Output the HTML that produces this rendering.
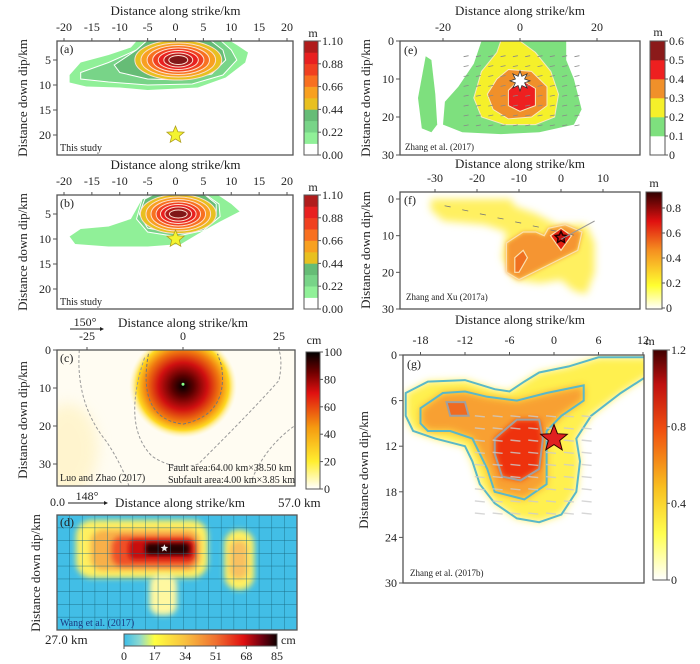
<!DOCTYPE html>
<html><head><meta charset="utf-8"><style>
html,body{margin:0;padding:0;background:#fff}
svg{display:block;font-family:"Liberation Serif",serif}
</style></head><body>
<svg id="fig" width="700" height="664" viewBox="0 0 700 664" xmlns="http://www.w3.org/2000/svg">
<defs>
<filter id="b2" x="-20%" y="-20%" width="140%" height="140%"><feGaussianBlur stdDeviation="2"/></filter>
<filter id="b3" x="-30%" y="-30%" width="160%" height="160%"><feGaussianBlur stdDeviation="3"/></filter>
<filter id="b4" x="-30%" y="-30%" width="160%" height="160%"><feGaussianBlur stdDeviation="4"/></filter>
<filter id="b7" x="-40%" y="-40%" width="180%" height="180%"><feGaussianBlur stdDeviation="7"/></filter>
<radialGradient id="gc" cx="0.5" cy="0.5" r="0.5">
<stop offset="0" stop-color="#000"/><stop offset="0.2" stop-color="#5a0000"/><stop offset="0.45" stop-color="#d01010"/><stop offset="0.68" stop-color="#f07a10"/><stop offset="0.85" stop-color="#ffd820"/><stop offset="1" stop-color="#fff6c0" stop-opacity="0"/></radialGradient>
<linearGradient id="cbc" x1="0" y1="1" x2="0" y2="0"><stop offset="0" stop-color="#fff"/><stop offset="0.2" stop-color="#ffee30"/><stop offset="0.45" stop-color="#f59a10"/><stop offset="0.7" stop-color="#e01010"/><stop offset="0.85" stop-color="#700000"/><stop offset="1" stop-color="#000"/></linearGradient>
<linearGradient id="cbd" x1="0" y1="0" x2="1" y2="0"><stop offset="0" stop-color="#3cbde8"/><stop offset="0.1" stop-color="#8ad8d0"/><stop offset="0.2" stop-color="#ffff40"/><stop offset="0.4" stop-color="#f8c040"/><stop offset="0.6" stop-color="#f07030"/><stop offset="0.78" stop-color="#e01010"/><stop offset="0.9" stop-color="#700010"/><stop offset="1" stop-color="#100000"/></linearGradient>
<linearGradient id="cbf" x1="0" y1="1" x2="0" y2="0"><stop offset="0" stop-color="#fff"/><stop offset="0.2" stop-color="#ffff30"/><stop offset="0.5" stop-color="#f59020"/><stop offset="0.75" stop-color="#e01010"/><stop offset="1" stop-color="#300000"/></linearGradient>
<linearGradient id="cbg" x1="0" y1="1" x2="0" y2="0"><stop offset="0" stop-color="#fff"/><stop offset="0.2" stop-color="#ffff50"/><stop offset="0.4" stop-color="#f8c020"/><stop offset="0.65" stop-color="#f05010"/><stop offset="0.85" stop-color="#c01010"/><stop offset="1" stop-color="#400000"/></linearGradient>
</defs>
</svg>
<script>
// ---- data arrays ----
const abXTicks=[-20,-15,-10,-5,0,5,10,15,20];
const abYTicks=[5,10,15,20];
const abCbLabels=["1.10","0.88","0.66","0.44","0.22","0.00"];
const abCbColors=["#fff","#90f098","#78d488","#66bc76","#e8c020","#f8a020","#f87020","#f04020","#e82020","#b01c1c","#801818"];
const aEllRx=[7.8,6.7,5.6,4.6,3.6,2.6,1.7];
const aEllRy=[4.0,3.4,2.9,2.4,1.9,1.4,0.9];
const bEllRx=[6.8,5.8,4.9,4.0,3.2,2.4,1.6];
const bEllRy=[3.9,3.4,2.9,2.4,1.9,1.4,0.8];
const aStar=[0,20], bStar=[0,10];
const cXTicks=[-25,0,25], cYTicks=[0,10,20,30], cCbLabels=[100,80,60,40,20,0];
const cPeak=[0,9];
const dCbLabels=[0,17,34,51,68,85];
const eXTicks=[-20,0,20], eYTicks=[0,10,20,30], eCbLabels=["0.6","0.5","0.4","0.3","0.2","0.1","0"];
const eColors=["#fff","#7ee07e","#f5f02a","#f0902a","#ee2020","#8b1a1a"];
const fXTicks=[-30,-20,-10,0,10], fYTicks=[0,10,20,30], fCbLabels=["0.8","0.6","0.4","0.2","0"];
const gXTicks=[-18,-12,-6,0,6,12], gYTicks=[0,6,12,18,24,30], gCbLabels=["1.2","0.8","0.4","0"];
const gStar=[0,11];

const NS="http://www.w3.org/2000/svg";
const svg=document.getElementById('fig');
function el(tag,attrs,parent,txt){const e=document.createElementNS(NS,tag);for(const k in attrs)e.setAttribute(k,attrs[k]);if(txt!==undefined)e.textContent=txt;(parent||svg).appendChild(e);return e;}
function lin(d0,d1,p0,p1){return v=>p0+(v-d0)*(p1-p0)/(d1-d0);}
function pts(arr,sx,sy){return arr.map(p=>sx(p[0]).toFixed(1)+","+sy(p[1]).toFixed(1)).join(" ");}
function starPts(cx,cy,R,r,n){n=n||5;let s=[];for(let i=0;i<2*n;i++){const a=-Math.PI/2+i*Math.PI/n;const rr=i%2?r:R;s.push((cx+rr*Math.cos(a)).toFixed(1)+","+(cy+rr*Math.sin(a)).toFixed(1));}return s.join(" ");}
function txt(x,y,s,size,anchor,name,extra){const t=el('text',Object.assign({x:x,y:y,'font-size':size,'text-anchor':anchor||'middle',fill:'#222'},extra||{}),svg,s);return t;}
function clip(id,x,y,w,h){const c=el('clipPath',{id:id},svg.querySelector('defs'));el('rect',{x:x,y:y,width:w,height:h},c);}
function frame(x,y,w,h,name){const r=el('rect',{x:x,y:y,width:w,height:h,fill:'none',stroke:'#555','stroke-width':1.3});}
function topAxis(ticks,sx,ybox,ylab,title,ytitle,pref){
  const xs=ticks.map(sx);
  ticks.forEach((t,i)=>{el('line',{x1:xs[i],x2:xs[i],y1:ybox,y2:ybox-3,stroke:'#555'});txt(xs[i],ylab,String(t),12,'middle',pref+'-x-tick');});
  if(title)txt((xs[0]+xs[xs.length-1])/2,ytitle,title,13,'middle',pref+'-x-axis-title');
}
function leftAxis(ticks,sy,xbox,pref){ticks.forEach(t=>{const y=sy(t);el('line',{x1:xbox,x2:xbox-4,y1:y,y2:y,stroke:'#555'});txt(xbox-6,y+4,String(t),12,'end',pref+'-y-tick');});}
function ytitle(x,y,s,name){const t=txt(x,y,s,13,'middle',name,{transform:`rotate(-90 ${x} ${y})`});}
function vgroup(cl,name){const g=el('g',{'clip-path':`url(#${cl})`});return g;}

// ===== Panels a & b =====
function panelAB(top,label,ellRx,ellRy,center,outers,star,pref){
  const bx=57,bw=236,by=top,bh=114;
  const sx=lin(0,20,175.5,287), sy=lin(0,20,by-6,by-6+100);
  clip('cl'+pref,bx,by,bw,bh);
  const g=vgroup('cl'+pref,pref+'-slip-contours');
  outers.forEach((o,i)=>el('polygon',{points:pts(o,sx,sy),fill:abCbColors[i+1],stroke:i?'#fff':'none','stroke-width':1},g));
  ellRx.forEach((rx,i)=>el('ellipse',{cx:sx(center[0]),cy:sy(center[1]),rx:rx*5.57,ry:ellRy[i]*5,fill:abCbColors[i+4],stroke:'#fde0d0','stroke-width':1},g));
  const s=el('polygon',{points:starPts(sx(star[0]),sy(star[1]),9,4),fill:'#f4f430',stroke:'#b0a020','stroke-width':0.8});
  
  frame(bx,by,bw,bh,pref+'-plot-frame');
  topAxis(abXTicks,sx,by,by-10,'Distance along strike/km',by-26,pref);
  leftAxis(abYTicks,sy,bx,pref);
  txt(60,by+12,'('+label+')',12,'start',pref+'-panel-label');
  txt(60,by+bh-4,'This study',10,'start',pref+'-source-label');
  ytitle(27,by+57,'Distance down dip/km',pref+'-y-axis-title');
  const cx=304,cw=14,cy=by,ch=114,n=abCbColors.length-1,bandH=ch/n;
  for(let i=0;i<n;i++){const r=el('rect',{x:cx,y:cy+ch-(i+1)*bandH,width:cw,height:bandH+0.3,fill:abCbColors[i]});}
  el('rect',{x:cx,y:cy,width:cw,height:ch,fill:'none',stroke:'#555'});
  abCbLabels.forEach((l,i)=>{const y=cy+i*ch/(abCbLabels.length-1);el('line',{x1:cx+cw,x2:cx+cw+3,y1:y,y2:y,stroke:'#555'});txt(cx+cw+4,y+4,l,12,'start',pref+'-colorbar-label');});
  txt(cx+9,cy-4,'m',12,'middle',pref+'-colorbar-unit');
}
panelAB(41,'a',aEllRx,aEllRy,[0.5,5],[
 [[-19,8],[-17,5.5],[-12,4],[-8,2.5],[-6,0],[8,0],[11,2],[13,3.5],[12.5,5.5],[9,8.5],[4,10.5],[-5,11],[-10,10.5],[-16,10.3],[-19,9.5]],
 [[-17,7.5],[-12,5.5],[-7,3],[-4,0],[7,0],[10,3],[11,5],[8.5,8],[3,9.8],[-5,10],[-12,9.4],[-17,8.8]],
 [[-11,6],[-7,3],[-4,0],[5,0],[8.5,3],[9,5],[6.5,7.8],[1,9],[-5,8.8],[-10,7.5]]
],aStar,'panel-a');
panelAB(195,'b',bEllRx,bEllRy,[0.5,5],[
 [[-19,9.5],[-17,8],[-12,7.5],[-8,6],[-6,2],[-3,0],[6,0],[10,3],[11.5,4.5],[8,6.5],[4,9],[1,11],[-5,11.5],[-12,11.5],[-18,11]],
 [[-7,6],[-6,2],[-2,0],[4,0],[7.8,3],[8,5.5],[5,8.3],[0,9.5],[-5,8.6]],
 [[-6.5,5],[-5.5,2],[-2,0],[4,0],[7.3,3],[7.3,5.5],[4.5,7.8],[0,8.9],[-5,7.8]]
],bStar,'panel-b');

// ===== Panel c =====
(function(){
  const bx=57,by=350,bw=238,bh=136,pref='panel-c';
  const sx=lin(0,25,183,279), sy=lin(0,10,350,388);
  clip('clc',bx,by,bw,bh);
  const g=vgroup('clc','panel-c-slip-map');
  el('rect',{x:bx,y:by,width:bw,height:bh,fill:'#fffcf2'},g);
  el('ellipse',{cx:sx(-30),cy:sy(26),rx:30,ry:45,fill:'#fff2c0',opacity:0.7,filter:'url(#b7)'},g);
  el('ellipse',{cx:sx(cPeak[0]),cy:sy(cPeak[1]+0.5),rx:54,ry:52,fill:'url(#gc)'},g);
  el('path',{d:`M${sx(-27)},${sy(0)} Q${sx(-28)},${sy(14)} ${sx(-20)},${sy(24)} Q${sx(-16)},${sy(30)} ${sx(-14)},${sy(36)}`,fill:'none',stroke:'#999','stroke-dasharray':'3,2'},g);
  el('path',{d:`M${sx(-10)},${sy(2)} Q${sx(-16)},${sy(20)} ${sx(-8)},${sy(28)} Q${sx(-2)},${sy(32)} ${sx(4)},${sy(30)} Q${sx(18)},${sy(16)} ${sx(25)},${sy(8)} Q${sx(26)},${sy(3)} ${sx(25)},${sy(0)}`,fill:'none',stroke:'#999','stroke-dasharray':'3,2'},g);
  el('path',{d:`M${sx(-9)},${sy(1)} Q${sx(-12)},${sy(18)} ${sx(0)},${sy(19.5)} Q${sx(12)},${sy(17)} ${sx(10)},${sy(4)} L${sx(9)},${sy(1)}`,fill:'none',stroke:'#777','stroke-dasharray':'3,2'},g);
  el('path',{d:`M${sx(18)},${sy(34)} Q${sx(22)},${sy(24)} ${sx(32)},${sy(18)}`,fill:'none',stroke:'#999','stroke-dasharray':'3,2'},g);
  el('circle',{cx:sx(cPeak[0]),cy:sy(cPeak[1]),r:1.5,fill:'#8f8'},g);
  frame(bx,by,bw,bh,'panel-c-plot-frame');
  topAxis(cXTicks,sx,by,by-10,null,0,pref);
  txt(183,327,'Distance along strike/km',13,'middle','panel-c-x-axis-title');
  txt(85,326,'150°',12,'middle','panel-c-strike-label');
  el('line',{x1:70,x2:100,y1:329,y2:329,stroke:'#222'});el('polygon',{points:'100,327 104,329 100,331',fill:'#222'});
  leftAxis(cYTicks,sy,bx,pref);
  txt(60,362,'(c)',12,'start','panel-c-panel-label');
  txt(60,481,'Luo and Zhao (2017)',10,'start','panel-c-source-label');
  txt(168,471,'Fault area:64.00 km×38.50 km',10,'start','panel-c-fault-area');
  txt(168,483,'Subfault area:4.00 km×3.85 km',10,'start','panel-c-subfault-area');
  ytitle(27,420,'Distance down dip/km','panel-c-y-axis-title');
  const cx=306,cy=352,cw=14,ch=137;
  const r=el('rect',{x:cx,y:cy,width:cw,height:ch,fill:'url(#cbc)',stroke:'#555'});
  cCbLabels.forEach((l,i)=>{const y=cy+i*ch/(cCbLabels.length-1);el('line',{x1:cx+cw,x2:cx+cw+3,y1:y,y2:y,stroke:'#555'});txt(cx+cw+4,y+4,String(l),12,'start','panel-c-colorbar-label');});
  txt(cx+8,344,'cm',12,'middle','panel-c-colorbar-unit');
})();

// ===== Panel d =====
(function(){
  const bx=57,by=515,bw=240,bh=115;
  const sx=lin(0,57,bx,bx+bw), sy=lin(0,27,by,by+bh);
  clip('cld',bx,by,bw,bh);
  const g=vgroup('cld','panel-d-slip-map');
  el('rect',{x:bx,y:by,width:bw,height:bh,fill:'#42bee6'},g);
  // [x0,y0,x1,y1,color,radius,filter] in km
  const blobs=[[4.5,1.2,35.8,14.8,'#fff060',16,'b3'],[8,3.5,34,13,'#f8b048',12,'b3'],[13,5,33,12,'#f05028',10,'b3'],[17,5.8,32.5,10.5,'#c80e0e',6,'b2'],[21,6.6,31.5,9.3,'#280000',4,'b2'],
               [39.8,3.5,46.8,17.6,'#fff060',14,'b3'],[41,6,45.3,15,'#f8c060',8,'b3'],[22,14,28.5,23.5,'#fff8a0',10,'b3']];
  blobs.forEach(b=>el('rect',{x:sx(b[0]),y:sy(b[1]),width:sx(b[2])-sx(b[0]),height:sy(b[3])-sy(b[1]),rx:b[5],fill:b[4],filter:`url(#${b[6]})`},g));
  for(let i=1;i<19;i++)el('line',{x1:sx(i*3),x2:sx(i*3),y1:by,y2:by+bh,stroke:'#1a6a80','stroke-width':0.6,opacity:0.7},g);
  for(let j=1;j<9;j++)el('line',{x1:bx,x2:bx+bw,y1:sy(j*3),y2:sy(j*3),stroke:'#1a6a80','stroke-width':0.6,opacity:0.7},g);
  el('polygon',{points:starPts(sx(25.5),sy(7.8),4,1.8),fill:'#eee'},g);
  frame(bx,by,bw,bh,'panel-d-plot-frame');
  txt(50,506,'0.0',12,'start','panel-d-origin-label');
  txt(87,500,'148°',12,'middle','panel-d-strike-label');
  el('line',{x1:68,x2:104,y1:503,y2:503,stroke:'#222'});el('polygon',{points:'104,501 108,503 104,505',fill:'#222'});
  txt(115,507,'Distance along strike/km',13,'start','panel-d-x-axis-title');
  txt(278,507,'57.0 km',13,'start','panel-d-length-label');
  txt(45,644,'27.0 km',13,'start','panel-d-width-label');
  txt(60,526,'(d)',12,'start','panel-d-panel-label');
  txt(60,626,'Wang et al. (2017)',10,'start','panel-d-source-label',{fill:'#1a3a80'});
  ytitle(40,573,'Distance down dip/km','panel-d-y-axis-title');
  const cx=124,cy=634,cw=153,ch=12;
  const r=el('rect',{x:cx,y:cy,width:cw,height:ch,fill:'url(#cbd)',stroke:'#555'});
  dCbLabels.forEach((l,i)=>{const x=cx+i*cw/(dCbLabels.length-1);el('line',{x1:x,x2:x,y1:cy+ch,y2:cy+ch+3,stroke:'#555'});txt(x,cy+ch+14,String(l),12,'middle','panel-d-colorbar-label');});
  txt(281,644,'cm',12,'start','panel-d-colorbar-unit');
})();

// ===== Panel e =====
(function(){
  const bx=400,by=41,bw=240,bh=114,pref='panel-e';
  const sx=lin(0,20,520,597), sy=lin(0,30,41,155);
  clip('cle',bx,by,bw,bh);
  const g=vgroup('cle','panel-e-slip-contours');
  const shapes=[
   [[-10,0],[12,0],[12,5],[14,10],[16,18],[14,22],[5,24],[-5,24.5],[-15,24],[-20,22],[-19.5,16],[-16,12],[-12,6]],
   [[-24.5,4],[-23,5],[-22,14],[-21.5,22],[-23,24],[-25.5,23],[-26.5,15]],
   [[-5,0],[0,0],[4,3],[8,8],[10,14],[9,20],[4,22],[-4,22],[-10,20],[-12,15],[-10,8],[-6,3]],
   [[-6,10],[-3,7.5],[3,8],[7,12],[7,17],[3,20],[-3,20.5],[-7,18],[-8.5,14]],
   [[-3,13],[0,10],[4,12.5],[4,17],[0,18.5],[-3,17]]];
  const lev=[1,1,2,3,4];
  shapes.forEach((s,i)=>el('polygon',{points:pts(s,sx,sy),fill:eColors[lev[i]],stroke:lev[i]>1?'#f8e8c0':'none','stroke-width':1},g));
  for(let r=0;r<8;r++)for(let c=0;c<10;c++){const x=sx(-14+c*3.2),y=sy(4+r*2.6);el('line',{x1:x-2.5,y1:y+0.5,x2:x+2.5,y2:y-0.5,stroke:'#888','stroke-width':0.8},g);}
  el('polygon',{points:starPts(sx(0),sy(10.5),10,5,8),fill:'#fff',stroke:'#333','stroke-width':0.8},g);
  frame(bx,by,bw,bh,'panel-e-plot-frame');
  topAxis(eXTicks,sx,by,by-10,null,0,pref);
  txt(520,15,'Distance along strike/km',13,'middle','panel-e-x-axis-title');
  leftAxis(eYTicks,sy,bx,pref);
  txt(404,54,'(e)',12,'start','panel-e-panel-label');
  txt(405,150,'Zhang et al. (2017)',9,'start','panel-e-source-label');
  ytitle(370,98,'Distance down dip/km','panel-e-y-axis-title');
  const cx=650,cw=15,cy=41,ch=114,n=eColors.length,bandH=ch/n;
  for(let i=0;i<n;i++){const r=el('rect',{x:cx,y:cy+ch-(i+1)*bandH,width:cw,height:bandH+0.3,fill:eColors[i]});}
  el('rect',{x:cx,y:cy,width:cw,height:ch,fill:'none',stroke:'#555'});
  eCbLabels.forEach((l,i)=>{const y=cy+i*ch/(eCbLabels.length-1);el('line',{x1:cx+cw,x2:cx+cw+3,y1:y,y2:y,stroke:'#555'});txt(cx+cw+4,y+4,l,12,'start','panel-e-colorbar-label');});
  txt(cx+8,36,'m',12,'middle','panel-e-colorbar-unit');
})();

// ===== Panel f =====
(function(){
  const bx=400,by=192,bw=240,bh=117,pref='panel-f';
  const sx=lin(0,10,561,603), sy=lin(0,30,199,309);
  clip('clf',bx,by,bw,bh);
  const g=vgroup('clf','panel-f-slip-map');
  const yel=[[-31,0],[-12,0],[-11,2],[-6,4],[-1,7],[6,7],[8,12],[8,20],[6,26],[3,25],[0,22],[-5,23],[-11,22],[-14,16],[-13,9],[-18,7],[-28,6],[-31,3]];
  el('polygon',{points:pts(yel,sx,sy),fill:'#fff060',filter:'url(#b4)'},g);
  const org=[[-13,12],[-9,9],[-6,9],[-4,10],[-3,8],[1,7],[5,9],[4,14],[-3,18],[-10,22],[-13,20]];
  el('polygon',{points:pts(org,sx,sy),fill:'#f59530',filter:'url(#b2)'},g);
  el('polygon',{points:pts(org,sx,sy),fill:'none',stroke:'#fbe0b0','stroke-width':1.2},g);
  const in1=[[-11,16],[-9,14],[-8,16],[-10,20],[-11,20]];
  el('polygon',{points:pts(in1,sx,sy),fill:'#f07020',stroke:'#fbe0b0','stroke-width':1.2},g);
  const red=[[-2.5,10],[0,8],[2.5,10],[0,14]];
  el('polygon',{points:pts(red,sx,sy),fill:'#e02010',stroke:'#fbe0b0','stroke-width':1.2},g);
  el('polygon',{points:starPts(sx(0),sy(10.5),6,3),fill:'#c01010',stroke:'#200','stroke-width':1.5},g);
  for(let i=0;i<8;i++){const x=sx(-27+i*4.2),y=sy(2+i*1.1);el('line',{x1:x-3,y1:y-0.6,x2:x+3,y2:y+0.6,stroke:'#777','stroke-width':0.8},g);}
  el('line',{x1:sx(0),y1:sy(11),x2:sx(8),y2:sy(6),stroke:'#999'},g);
  frame(bx,by,bw,bh,'panel-f-plot-frame');
  topAxis(fXTicks,sx,by,by-10,null,0,pref);
  txt(520,168,'Distance along strike/km',13,'middle','panel-f-x-axis-title');
  leftAxis(fYTicks,sy,bx,pref);
  txt(404,204,'(f)',12,'start','panel-f-panel-label');
  txt(406,300,'Zhang and Xu (2017a)',9,'start','panel-f-source-label');
  ytitle(370,250,'Distance down dip/km','panel-f-y-axis-title');
  const cx=646,cy=192,cw=16,ch=117;
  const r=el('rect',{x:cx,y:cy,width:cw,height:ch,fill:'url(#cbf)',stroke:'#555'});
  fCbLabels.forEach((l,i)=>{const y=208+i*(308-208)/(fCbLabels.length-1);el('line',{x1:cx+cw,x2:cx+cw+3,y1:y,y2:y,stroke:'#555'});txt(cx+cw+4,y+4,l,12,'start','panel-f-colorbar-label');});
  txt(cx+8,187,'m',12,'middle','panel-f-colorbar-unit');
})();

// ===== Panel g =====
(function(){
  const bx=403,by=355,bw=241,bh=228,pref='panel-g';
  const sx=lin(0,6,554,598.5), sy=lin(0,30,355,583);
  clip('clg',bx,by,bw,bh);
  const g=vgroup('clg','panel-g-slip-map');
  const outer=[[-20,5],[-17,3.5],[-12,3.3],[-8,4.5],[-6,4.8],[-4,3.5],[-2,2.3],[2,1.5],[6,0.3],[13,0.3],[13,2.5],[9,5],[5,8],[3,11],[3.5,14],[3,18],[1,21],[-2,22],[-5,21.5],[-8,19.5],[-10,17],[-11,14],[-12,12],[-16,11],[-19,10],[-20,8]];
  const mid=[[-18,7],[-15,5],[-12,4.8],[-9,5.5],[-5,6],[-1,5],[4,4],[4,6],[1,8],[-1,10],[-1,13],[-1,17],[-4,19],[-8,18],[-9,15],[-11,11],[-14,10],[-17,10],[-18,9]];
  const core=[[-8,11],[-5,8.5],[-2,8.5],[-1.5,11],[-2,15],[-4.5,16.5],[-7,16],[-8,13]];
  const sq=[[-14.5,6.2],[-12,6.2],[-11.5,8],[-14,8]];
  el('polygon',{points:pts(outer,sx,sy),fill:'#fff050',filter:'url(#b4)'},g);
  el('polygon',{points:pts(mid,sx,sy),fill:'#f8a030',filter:'url(#b4)'},g);
  el('polygon',{points:pts(core,sx,sy),fill:'#ee3010',filter:'url(#b3)'},g);
  el('polygon',{points:pts(sq,sx,sy),fill:'#f06a20'},g);
  el('polygon',{points:pts(outer,sx,sy),fill:'none',stroke:'#5ab8c8','stroke-width':2},g);
  el('polygon',{points:pts(mid,sx,sy),fill:'none',stroke:'#5ab8c8','stroke-width':2},g);
  el('polygon',{points:pts(core,sx,sy),fill:'none',stroke:'#a0a0a0','stroke-width':2},g);
  el('polygon',{points:pts(sq,sx,sy),fill:'none',stroke:'#a0a0a0','stroke-width':2},g);
  for(let r=0;r<9;r++)for(let c=0;c<7;c++){const x=sx(-10+c*2.4),y=sy(8+r*1.6);el('line',{x1:x-5,y1:y,x2:x+5,y2:y+1,stroke:'#ccc','stroke-width':1.4,opacity:0.8},g);}
  const s=el('polygon',{points:starPts(sx(gStar[0]),sy(gStar[1]),14,6),fill:'#e02020',stroke:'#300','stroke-width':1});
  
  frame(bx,by,bw,bh,'panel-g-plot-frame');
  topAxis(gXTicks,sx,by,by-11,null,0,pref);
  txt(520,324,'Distance along strike/km',13,'middle','panel-g-x-axis-title');
  leftAxis(gYTicks,sy,bx,pref);
  txt(407,368,'(g)',12,'start','panel-g-panel-label');
  txt(410,576,'Zhang et al. (2017b)',9,'start','panel-g-source-label');
  ytitle(368,470,'Distance down dip/km','panel-g-y-axis-title');
  const cx=653,cy=350,cw=14,ch=230;
  const r=el('rect',{x:cx,y:cy,width:cw,height:ch,fill:'url(#cbg)',stroke:'#555'});
  gCbLabels.forEach((l,i)=>{const y=cy+i*ch/(gCbLabels.length-1);el('line',{x1:cx+cw,x2:cx+cw+3,y1:y,y2:y,stroke:'#555'});txt(cx+cw+4,y+4,l,12,'start','panel-g-colorbar-label');});
  txt(650,345,'m',12,'middle','panel-g-colorbar-unit');
})();
</script>
</body></html>
